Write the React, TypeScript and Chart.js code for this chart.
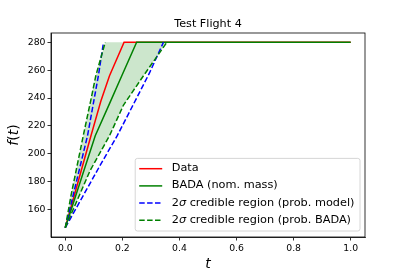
import React, { useEffect, useRef } from 'react';
import { Chart, registerables } from 'chart.js';

Chart.register(...registerables);

// ---- data (t, f(t)) ----
const tObserved = [0, 0.09, 0.125, 0.155, 0.206, 1.0];
const fObserved = [147, 213, 238, 256, 280, 280];

const tBadaNominal = [0, 0.105, 0.155, 0.198, 0.25, 1.0];
const fBadaNominal = [147, 213, 236, 256, 280, 280];

const tModelFast = [0, 0.078, 0.1, 0.116, 0.134];
const fModelFast = [147, 213, 238, 256, 280];
const tModelSlow = [0, 0.12, 0.182, 0.24, 0.295, 0.344];
const fModelSlow = [147, 191, 213, 236, 258, 280];

const tBadaFast = [0, 0.02, 0.063, 0.089, 0.107, 0.14];
const fBadaFast = [147, 170, 213, 238, 256, 280];
const tBadaSlow = [0, 0.087, 0.155, 0.204, 0.274, 0.356];
const fBadaSlow = [147, 188, 213, 235, 256, 280];

const xTicks = [0, 0.2, 0.4, 0.6, 0.8, 1.0];
const yTicks = [160, 180, 200, 220, 240, 260, 280];

const titleText = 'Test Flight 4';
const legendLabels = [
  'Data',
  'BADA (nom. mass)',
  '2σ credible region (prob. model)',
  '2σ credible region (prob. BADA)',
];

const RED = '#ff0000';
const GREEN = '#008000';
const BLUE = '#0000ff';
const FILL = 'rgba(0,128,0,0.2)';
const DASH = [5.5, 2.4];
const FONT = '"DejaVu Sans", sans-serif';

const pts = (t: number[], f: number[]) => t.map((x, i) => ({ x, y: f[i] }));

const legendItems = [
  { label: legendLabels[0], color: RED, dash: [] as number[] },
  { label: legendLabels[1], color: GREEN, dash: [] as number[] },
  { label: legendLabels[2], color: BLUE, dash: DASH },
  { label: legendLabels[3], color: GREEN, dash: DASH },
];

function drawMixed(ctx: CanvasRenderingContext2D, parts: { s: string; it: boolean }[], x: number, y: number, size: number) {
  let cx = x;
  for (const p of parts) {
    ctx.font = `${p.it ? 'italic ' : ''}${size}px ${FONT}`;
    ctx.fillText(p.s, cx, y);
    cx += ctx.measureText(p.s).width;
  }
  return cx - x;
}
function measureMixed(ctx: CanvasRenderingContext2D, parts: { s: string; it: boolean }[], size: number) {
  let w = 0;
  for (const p of parts) {
    ctx.font = `${p.it ? 'italic ' : ''}${size}px ${FONT}`;
    w += ctx.measureText(p.s).width;
  }
  return w;
}
function splitSigma(s: string) {
  const i = s.indexOf('σ');
  if (i < 0) return [{ s, it: false }];
  return [
    { s: s.slice(0, i), it: false },
    { s: 'σ', it: true },
    { s: s.slice(i + 1), it: false },
  ];
}

const decorPlugin = {
  id: 'decor',
  afterDraw(chart: any) {
    const ctx: CanvasRenderingContext2D = chart.ctx;
    const a = chart.chartArea;
    ctx.save();
    // axes frame
    ctx.strokeStyle = '#000';
    ctx.lineWidth = 0.8;
    ctx.setLineDash([]);
    ctx.strokeRect(a.left, a.top, a.right - a.left, a.bottom - a.top);

    ctx.fillStyle = '#000';
    // title
    ctx.font = `11.2px ${FONT}`;
    ctx.textAlign = 'center';
    ctx.textBaseline = 'alphabetic';
    ctx.fillText(titleText, (a.left + a.right) / 2, a.top - 6.3);

    // x label
    ctx.font = `italic 14px ${FONT}`;
    ctx.fillText('t', (a.left + a.right) / 2, 268);

    // y label f(t)
    const yParts = [
      { s: 'f', it: true },
      { s: '(', it: false },
      { s: 't', it: true },
      { s: ')', it: false },
    ];
    ctx.save();
    ctx.translate(17.5, (a.top + a.bottom) / 2);
    ctx.rotate(-Math.PI / 2);
    ctx.textAlign = 'left';
    const w = measureMixed(ctx, yParts, 14);
    drawMixed(ctx, yParts, -w / 2, 0, 14);
    ctx.restore();

    // legend
    const fs = 11.3;
    let maxW = 0;
    for (const it of legendItems) maxW = Math.max(maxW, measureMixed(ctx, splitSigma(it.label), fs));
    const boxW = 36.5 + maxW + 5.5;
    const rowH = 17.2;
    const boxH = 21 + rowH * (legendItems.length - 1);
    const right = a.right - 5;
    const bottom = a.bottom - 6;
    const left = right - boxW;
    const top = bottom - boxH;
    ctx.beginPath();
    (ctx as any).roundRect(left, top, boxW, boxH, 2.2);
    ctx.fillStyle = 'rgba(255,255,255,0.8)';
    ctx.fill();
    ctx.strokeStyle = '#cccccc';
    ctx.lineWidth = 0.8;
    ctx.stroke();
    ctx.textAlign = 'left';
    ctx.textBaseline = 'middle';
    legendItems.forEach((it, i) => {
      const y = top + 10.3 + i * rowH;
      ctx.beginPath();
      ctx.strokeStyle = it.color;
      ctx.lineWidth = 1.5;
      ctx.setLineDash(it.dash);
      ctx.moveTo(left + 4, y);
      ctx.lineTo(left + 27, y);
      ctx.stroke();
      ctx.setLineDash([]);
      ctx.fillStyle = '#000';
      drawMixed(ctx, splitSigma(it.label), left + 36.5, y - 0.5, fs);
    });
    ctx.restore();
  },
};

export default function App() {
  const ref = useRef<HTMLCanvasElement | null>(null);
  useEffect(() => {
    if (!ref.current) return;
    const fillPts = [...pts(tBadaFast, fBadaFast), { x: tBadaSlow[tBadaSlow.length - 1], y: fBadaSlow[fBadaSlow.length - 1] }];
    const line = (data: any, color: string, dash: number[], order: number) => ({
      data,
      borderColor: color,
      backgroundColor: color,
      borderWidth: 1.5,
      borderDash: dash,
      pointRadius: 0,
      fill: false,
      tension: 0,
      order,
    });
    const tickFont = { family: 'DejaVu Sans', size: 9.3 };
    const chart = new Chart(ref.current, {
      type: 'line',
      data: {
        datasets: [
          {
            data: fillPts,
            borderColor: 'rgba(0,0,0,0)',
            borderWidth: 0,
            backgroundColor: FILL,
            pointRadius: 0,
            fill: { target: 6, above: FILL, below: FILL },
            order: 10,
          } as any,
          line(pts(tObserved, fObserved), RED, [], 6),
          line(pts(tBadaNominal, fBadaNominal), GREEN, [], 5),
          line(pts(tModelFast, fModelFast), BLUE, DASH, 4),
          line(pts(tModelSlow, fModelSlow), BLUE, DASH, 4),
          line(pts(tBadaFast, fBadaFast), GREEN, DASH, 3),
          line(pts(tBadaSlow, fBadaSlow), GREEN, DASH, 3),
        ],
      },
      options: {
        responsive: false,
        animation: false,
        devicePixelRatio: 1,
        layout: { padding: { left: 0, right: 42, top: 33, bottom: 0 } },
        plugins: {
          legend: { display: false },
          title: { display: false },
          tooltip: { enabled: false },
        },
        scales: {
          x: {
            type: 'linear',
            min: -0.05,
            max: 1.05,
            afterBuildTicks: (s: any) => {
              s.ticks = xTicks.map((v) => ({ value: v }));
            },
            afterFit: (s: any) => {
              s.height = 34;
            },
            grid: { display: true, drawOnChartArea: false, drawTicks: true, tickLength: 3.5, color: '#000', lineWidth: 0.8 },
            border: { display: true, color: '#000', width: 0.8 },
            ticks: {
              color: '#000',
              font: tickFont,
              padding: 2.5,
              maxRotation: 0,
              autoSkip: false,
              callback: (v: any) => Number(v).toFixed(1),
            },
          },
          y: {
            type: 'linear',
            min: 140.35,
            max: 286.65,
            afterBuildTicks: (s: any) => {
              s.ticks = yTicks.map((v) => ({ value: v }));
            },
            afterFit: (s: any) => {
              s.width = 51;
            },
            grid: { display: true, drawOnChartArea: false, drawTicks: true, tickLength: 3.5, color: '#000', lineWidth: 0.8 },
            border: { display: true, color: '#000', width: 0.8 },
            ticks: {
              color: '#000',
              font: tickFont,
              padding: 2,
              autoSkip: false,
              callback: (v: any) => String(v),
            },
          },
        },
      } as any,
      plugins: [decorPlugin],
    });
    return () => chart.destroy();
  }, []);
  return (
    <div style={{ position: 'absolute', left: 0, top: 0, width: 407, height: 271, background: '#fff' }}>
      <canvas ref={ref} width={407} height={271} style={{ display: 'block' }} />
    </div>
  );
}
